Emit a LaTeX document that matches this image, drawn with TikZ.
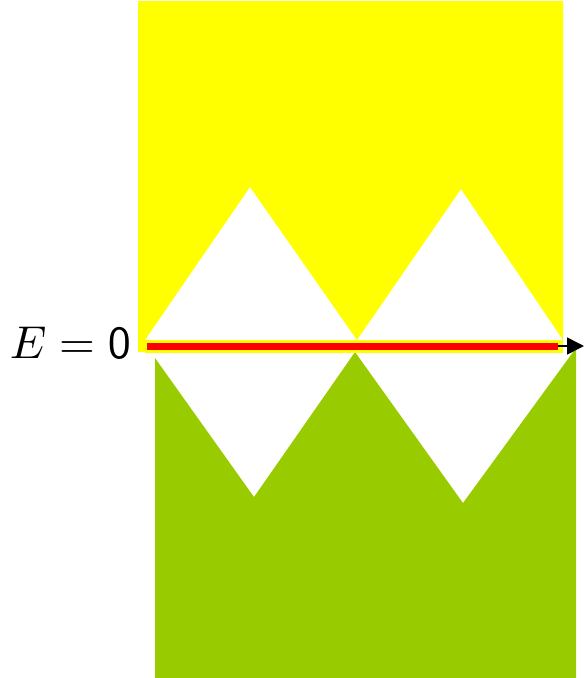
\documentclass[tikz,border=0pt]{standalone}
\usetikzlibrary{arrows.meta}
\definecolor{bandyellow}{RGB}{255,255,0}
\definecolor{bandgreen}{RGB}{153,204,0}
\begin{document}
\begin{tikzpicture}[x=1pt,y=-1pt,
  region/.style={draw=none},
  axisline/.style={line width=1.6pt,-{Triangle[length=17pt,width=17pt]}}]
\useasboundingbox (0,0) rectangle (585,678);
% upper (yellow) band
\fill[bandyellow,region] (138,1) -- (563,1) -- (563,340) -- (461,189) -- (357,340)
  -- (250,187) -- (145,340) -- (145,352) -- (138,352) -- cycle;
% lower (green) band
\fill[bandgreen,region] (155,358) -- (254,497) -- (355,352) -- (463,503)
  -- (576,348) -- (576,678) -- (155,678) -- cycle;
% E = 0 line
\coordinate (l0) at (145,346);
\coordinate (l1) at (563,346);
\coordinate (r0) at (147,346);
\coordinate (r1) at (558,346);
\coordinate (a1) at (584,346);
\draw[bandyellow,line width=13pt] (l0) -- (l1);
\draw[axisline] (r0) -- (a1);
\draw[red,line width=7pt] (r0) -- (r1);
\node[anchor=base east,inner sep=0pt] (lab) at (131,358) {\scalebox{4.6}{$E=\mathsf{0}$}};
\end{tikzpicture}
\end{document}
